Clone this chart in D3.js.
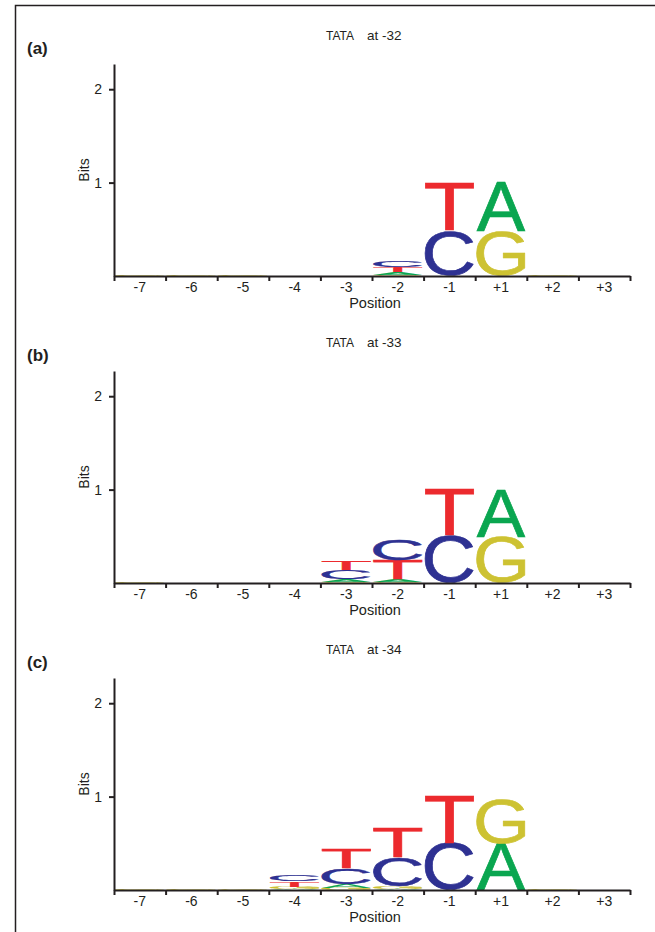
<!DOCTYPE html>
<html>
<head>
    <title>TATA position logos</title>
    <style>
        body, html {
            margin: 0;
            padding: 0;
            background: #fff;
            overflow: hidden;
        }
        text {
            font-family: "Liberation Sans", Arial, sans-serif;
            fill: #231f20;
        }
        .axis path, .axis line {
            stroke: #231f20;
            stroke-width: 2px;
        }
    </style>
    <script src="https://d3js.org/d3.v7.min.js"></script>
</head>
<body>

<svg id="chart" width="655" height="932"></svg>

<script>
// positions along the promoter
const positions = ["-7", "-6", "-5", "-4", "-3", "-2", "-1", "+1", "+2", "+3"];
const panelLabels = ["(a)", "(b)", "(c)"];
const panelTitles = ["-32", "-33", "-34"];
const bitTicks = [1, 2];

// letter stacks, bottom to top, heights in bits
const logoA = [
    [["G", 0.008]], [["G", 0.008]], [["G", 0.008]], [], [],
    [["G", 0.012], ["A", 0.025], ["T", 0.055], ["C", 0.075]],
    [["C", 0.48], ["T", 0.52]],
    [["G", 0.48], ["A", 0.52]],
    [["G", 0.008]], []
];
const logoB = [
    [["G", 0.008]], [], [], [],
    [["G", 0.015], ["A", 0.025], ["C", 0.095], ["T", 0.095]],
    [["G", 0.015], ["A", 0.025], ["T", 0.2], ["C", 0.23]],
    [["C", 0.51], ["T", 0.50]],
    [["G", 0.49], ["A", 0.50]],
    [], []
];
const logoC = [
    [["G", 0.008]], [["G", 0.008]], [["G", 0.01]],
    [["A", 0.015], ["G", 0.02], ["T", 0.06], ["C", 0.07]],
    [["G", 0.02], ["A", 0.04], ["C", 0.17], ["T", 0.21]],
    [["A", 0.01], ["G", 0.03], ["C", 0.31], ["T", 0.32]],
    [["C", 0.50], ["T", 0.51]],
    [["A", 0.50], ["G", 0.48]],
    [["G", 0.008]], []
];
const logos = [logoA, logoB, logoC];

const colors = {A: "#0aa650", C: "#2e3192", G: "#cdc232", T: "#ec2a2e"};

const svg = d3.select('#chart');

// frame (open to the right and bottom)
svg.append('rect')
    .attr('x', 15.5).attr('y', 5.5)
    .attr('width', 700).attr('height', 1000)
    .attr('fill', 'none')
    .attr('stroke', '#231f20')
    .attr('stroke-width', 1.5);

// tight glyph boxes for stretching letters
const ctx = document.createElement('canvas').getContext('2d');
ctx.font = "100px 'Liberation Sans'";
const boxes = {};
"ACGT".split("").forEach(ch => {
    const m = ctx.measureText(ch);
    boxes[ch] = {
        left: m.actualBoundingBoxLeft,
        w: m.actualBoundingBoxLeft + m.actualBoundingBoxRight,
        asc: m.actualBoundingBoxAscent,
        h: m.actualBoundingBoxAscent + m.actualBoundingBoxDescent
    };
});

const x = d3.scaleBand().domain(positions).range([114, 630]);
const xEdges = d3.scaleLinear().domain([0, positions.length]).range([114, 630]);
const panelGap = 307;

logos.forEach((logo, p) => {
    const base = 276 + p * panelGap;
    const y = d3.scaleLinear().domain([0, 2.27]).range([base, base - 212]);
    const g = svg.append('g');

    g.append('text')
        .attr('x', 27).attr('y', 54 + p * panelGap)
        .style('font-size', '17px').style('font-weight', 'bold')
        .text(panelLabels[p]);

    g.append('text')
        .attr('x', 326).attr('y', 40 + p * panelGap)
        .style('font-size', '12px')
        .text('TATA');
    g.append('text')
        .attr('x', 367).attr('y', 40 + p * panelGap)
        .style('font-size', '13.5px')
        .text('at ' + panelTitles[p]);

    // letters
    logo.forEach((stack, i) => {
        let acc = 0;
        stack.forEach(([ch, bits]) => {
            const b = boxes[ch];
            const x0 = x(positions[i]) + 1.5;
            const w = x.bandwidth() - 3;
            const yTop = y(acc + bits);
            const h = y(acc) - yTop;
            acc += bits;
            g.append('g')
                .attr('transform', `translate(${x0},${yTop}) scale(${w / b.w},${h / b.h})`)
              .append('text')
                .attr('x', b.left).attr('y', b.asc)
                .style('font-size', '100px')
                .style('fill', colors[ch])
                .style('stroke', colors[ch])
                .style('stroke-width', 0.7)
                .attr('vector-effect', 'non-scaling-stroke')
                .text(ch);
        });
    });

    // y axis
    g.append('g')
        .attr('class', 'axis')
        .attr('transform', 'translate(114,0)')
        .call(d3.axisLeft(y).tickValues(bitTicks).tickFormat(d3.format('d'))
            .tickSize(5).tickSizeOuter(0).tickPadding(7))
        .call(a => a.selectAll('text').style('font-size', '14px').style('font-family', null));

    // x axis: boundary ticks
    g.append('g')
        .attr('class', 'axis')
        .attr('transform', `translate(0,${base})`)
        .call(d3.axisBottom(xEdges).tickValues(d3.range(positions.length + 1)).tickSize(5).tickSizeOuter(0).tickFormat(''));

    // x axis: position labels
    g.append('g')
        .attr('transform', `translate(0,${base})`)
        .call(d3.axisBottom(x).tickSize(0).tickPadding(6))
        .call(a => a.select('.domain').remove())
        .call(a => a.selectAll('text').style('font-size', '14px').style('font-family', null));

    g.append('text')
        .attr('x', 375).attr('y', base + 32)
        .attr('text-anchor', 'middle')
        .style('font-size', '14.5px')
        .text('Position');

    g.append('text')
        .attr('transform', `translate(89,${base - 106}) rotate(-90)`)
        .attr('text-anchor', 'middle')
        .style('font-size', '14px')
        .text('Bits');
});
</script>

</body>
</html>
